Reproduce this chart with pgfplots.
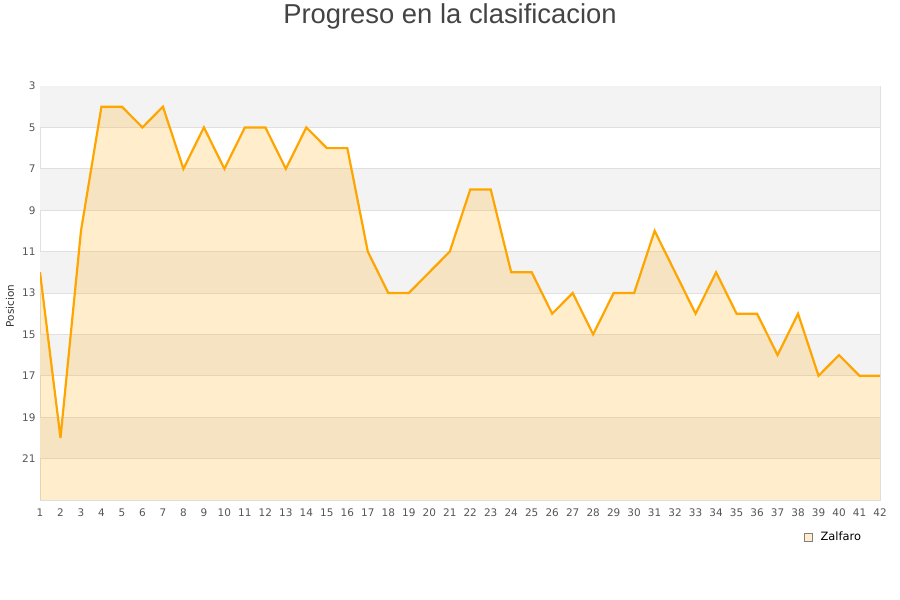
\documentclass[border=0pt]{standalone}
\usepackage{pgfplots}
\usepackage{pgfplotstable}
\pgfplotsset{compat=1.18}
\usepackage{fontspec}
\setmainfont{DejaVu Sans}
\newfontfamily\titlefont{Liberation Sans}

\definecolor{lineorange}{HTML}{FFA500}
\definecolor{bandgrey}{HTML}{F3F3F3}
\definecolor{gridgrey}{HTML}{E0E0E0}
\definecolor{ticktext}{HTML}{555555}
\definecolor{titletext}{HTML}{444444}

% jornada, posicion
\pgfplotstableread{
x y
1 12
2 20
3 10
4 4
5 4
6 5
7 4
8 7
9 5
10 7
11 5
12 5
13 7
14 5
15 6
16 6
17 11
18 13
19 13
20 12
21 11
22 8
23 8
24 12
25 12
26 14
27 13
28 15
29 13
30 13
31 10
32 12
33 14
34 12
35 14
36 14
37 16
38 14
39 17
40 16
41 17
42 17
}\posdata

\begin{document}
\begin{tikzpicture}
\path[use as bounding box] (0bp,0bp) rectangle (900bp,600bp);

\node[font=\titlefont\fontsize{27.5}{32}\selectfont, text=titletext] at (450bp,584bp) {Progreso en la clasificacion};
\node[rotate=90, font=\fontsize{10.5}{12}\selectfont, text=black!80] at (10bp,294bp) {Posicion};

\begin{axis}[
    at={(40bp,100bp)}, anchor=south west,
    scale only axis,
    width=840bp, height=414bp,
    xmin=1, xmax=42,
    ymin=3, ymax=23,
    y dir=reverse,
    xtick={1,...,42},
    ytick={3,5,...,21},
    major tick length=0pt,
    axis line style={draw=gridgrey, line width=1bp},
    tick label style={font=\fontsize{10.5}{12}\selectfont, text=ticktext},
    /pgf/number format/assume math mode=true,
    xticklabel style={yshift=-5bp},
    yticklabel style={xshift=-1bp},
    legend style={at={(0.906,-0.089)}, anchor=west, draw=none, fill=none,
        font=\fontsize{11.5}{13}\selectfont},
    legend cell align=left,
]
% bandas alternas
\fill[bandgrey] (axis cs:1,3) rectangle (axis cs:42,5);
\fill[bandgrey] (axis cs:1,7) rectangle (axis cs:42,9);
\fill[bandgrey] (axis cs:1,11) rectangle (axis cs:42,13);
\fill[bandgrey] (axis cs:1,15) rectangle (axis cs:42,17);
\fill[bandgrey] (axis cs:1,19) rectangle (axis cs:42,21);
% rejilla
\draw[gridgrey, line width=0.8bp] (axis cs:1,5) -- (axis cs:42,5);
\draw[gridgrey, line width=0.8bp] (axis cs:1,7) -- (axis cs:42,7);
\draw[gridgrey, line width=0.8bp] (axis cs:1,9) -- (axis cs:42,9);
\draw[gridgrey, line width=0.8bp] (axis cs:1,11) -- (axis cs:42,11);
\draw[gridgrey, line width=0.8bp] (axis cs:1,13) -- (axis cs:42,13);
\draw[gridgrey, line width=0.8bp] (axis cs:1,15) -- (axis cs:42,15);
\draw[gridgrey, line width=0.8bp] (axis cs:1,17) -- (axis cs:42,17);
\draw[gridgrey, line width=0.8bp] (axis cs:1,19) -- (axis cs:42,19);
\draw[gridgrey, line width=0.8bp] (axis cs:1,21) -- (axis cs:42,21);

\addplot[draw=none, fill=lineorange, fill opacity=0.2, forget plot]
    table[x=x, y=y] {\posdata} -- (axis cs:42,23) -- (axis cs:1,23) -- cycle;

\addplot[lineorange, line width=2.2bp, mark=none, miter limit=3,
    legend image code/.code={
      \path[draw=none, fill=none] (0bp,0bp) -- (14bp,0bp);
      \draw[fill=lineorange!20, draw=gray, line width=0.6bp] (0bp,-4bp) rectangle (8bp,4bp);
    }]
    table[x=x, y=y] {\posdata};
\addlegendentry{Zalfaro}
\end{axis}
\end{tikzpicture}
\end{document}
